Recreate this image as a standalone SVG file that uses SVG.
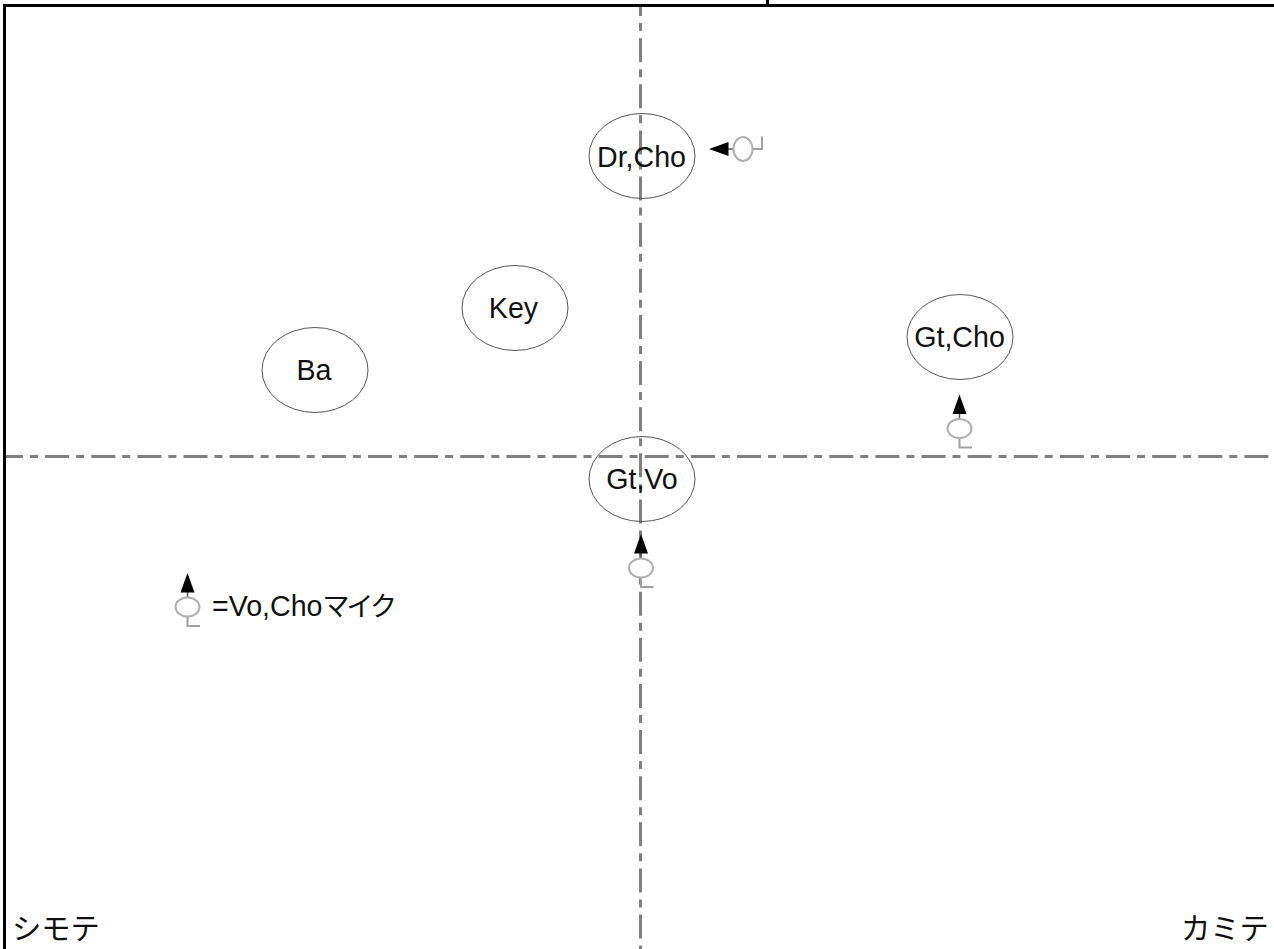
<svg xmlns="http://www.w3.org/2000/svg" width="1274" height="949" viewBox="0 0 1274 949">
<style>
.bg{fill:#fff}
.border{fill:#000}
.axis{stroke:#808080;stroke-width:3;stroke-dasharray:24 7 8 7.125;fill:none}
.node ellipse{fill:none;stroke:#555;stroke-width:1}
text{font-family:"Liberation Sans","Noto Sans CJK JP",sans-serif;font-size:28.6px;fill:#111}
.c{text-anchor:middle}
.jp{font-family:"Noto Sans CJK JP","Liberation Sans",sans-serif;font-size:29.3px}
.jp2{font-family:"Noto Sans CJK JP","Liberation Sans",sans-serif;font-size:27px;letter-spacing:-3px}
.micb{fill:#fff;stroke:#b0b0b0;stroke-width:2}
.micl{fill:none;stroke:#a0a0a0;stroke-width:2}
.mics{stroke:#555;stroke-width:1.5}
</style>
<defs>
<g id="mic">
<line class="mics" x1="0" y1="-9" x2="0" y2="-16"/>
<polygon points="0,-34 -7,-14.5 7,-14.5" fill="#000"/>
<ellipse class="micb" cx="0" cy="0" rx="12" ry="9.5"/>
<path class="micl" d="M0 10V19H12.5"/>
</g>
</defs>
<rect class="bg" width="1274" height="949"/>
<g id="connectors">
<line class="axis" x1="6" y1="456.5" x2="1274" y2="456.5" stroke-dashoffset="7"/>
<line class="axis" x1="640.5" y1="7" x2="640.5" y2="949" stroke-dashoffset="15"/>
</g>
<g id="frame">
<rect class="border" x="3" y="4" width="1271" height="3"/>
<rect class="border" x="3" y="4" width="3" height="945"/>
<rect class="border" x="766" y="0" width="3" height="5"/>
</g>
<g id="node-dr" class="node"><ellipse cx="642" cy="156" rx="53" ry="42.5"/><text class="c" x="641.5" y="166.5">Dr,Cho</text></g>
<g id="node-key" class="node"><ellipse cx="515" cy="308" rx="53" ry="42.5"/><text class="c" x="513.5" y="318">Key</text></g>
<g id="node-ba" class="node"><ellipse cx="315" cy="370" rx="53" ry="42.5"/><text class="c" x="314" y="380">Ba</text></g>
<g id="node-gtcho" class="node"><ellipse cx="960" cy="337" rx="53" ry="42.5"/><text class="c" x="959.5" y="347">Gt,Cho</text></g>
<g id="node-gtvo" class="node"><ellipse cx="642" cy="479" rx="53" ry="42.5"/><text class="c" x="642" y="489">Gt,Vo</text></g>
<g id="mic-dr"><use href="#mic" transform="translate(743 149) rotate(-90)"/></g>
<g id="mic-gtcho"><use href="#mic" transform="translate(959.5 428.5)"/></g>
<g id="mic-gtvo"><use href="#mic" transform="translate(641 568)"/></g>
<g id="legend"><use href="#mic" transform="translate(187.5 607)"/><text x="212" y="616">=Vo,Cho<tspan class="jp2">マイク</tspan></text></g>
<text class="jp" x="12" y="939">シモテ</text>
<text class="jp" x="1181" y="939">カミテ</text>
</svg>
